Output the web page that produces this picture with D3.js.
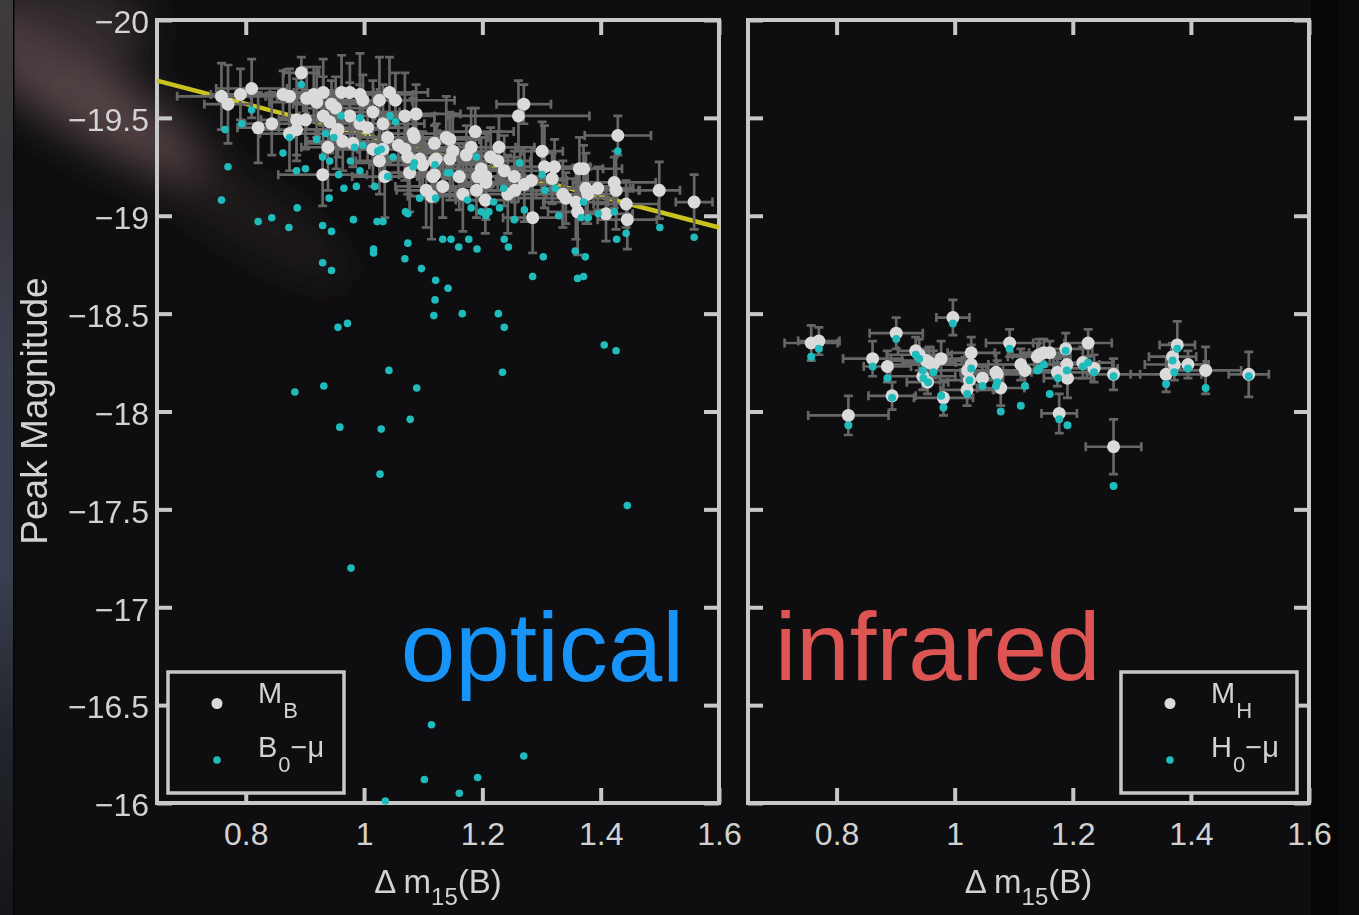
<!DOCTYPE html>
<html>
<head>
<meta charset="utf-8">
<script src="https://cdn.jsdelivr.net/npm/d3@7"></script>
<style>
  html, body { margin: 0; padding: 0; background: #0e0e10; }
  svg { display: block; }
  text { font-family: "Liberation Sans", Arial, Helvetica, sans-serif; }
</style>
</head>
<body>
<svg id="chart" width="1359" height="915"></svg>
<script>
// ---- Optical sample: peak B magnitude (M_B) with uncertainties ----
const optDm15 = [0.759,0.770,0.791,0.810,0.821,0.844,0.863,0.874,0.894,0.886,0.901,0.886,0.874,0.920,0.931,0.945,0.931,0.942,0.956,0.939,
  0.930,0.962,0.976,0.993,0.998,0.976,0.993,0.964,0.981,0.953,1.026,1.043,1.053,1.015,1.032,1.040,1.015,1.032,1.026,1.035,
  1.069,1.088,1.083,1.085,1.069,1.074,1.094,1.077,1.099,1.119,1.139,1.119,1.119,1.133,1.105,1.114,1.270,1.261,1.429,1.145,
  1.188,1.228,1.181,1.173,1.122,1.116,1.145,1.161,1.167,1.190,1.198,1.206,1.226,1.237,1.254,1.243,1.206,1.192,1.271,1.285,
  1.301,1.305,1.322,1.336,1.341,1.358,1.361,1.364,1.371,1.375,1.378,1.395,1.409,1.423,1.426,1.443,1.445,1.499,1.558,0.903,
  0.915,1.205,1.255,0.952,1.006,1.058,1.150,1.214,1.283,1.318];
const optMB = [-19.61,-19.57,-19.62,-19.65,-19.45,-19.47,-19.62,-19.61,-19.73,-19.49,-19.49,-19.44,-19.42,-19.58,-19.63,-19.57,-19.51,-19.48,-19.44,-19.35,
  -19.21,-19.63,-19.63,-19.62,-19.59,-19.51,-19.47,-19.38,-19.37,-19.42,-19.59,-19.63,-19.59,-19.53,-19.47,-19.40,-19.34,-19.34,-19.28,-19.20,
  -19.51,-19.52,-19.42,-19.40,-19.34,-19.30,-19.29,-19.22,-19.26,-19.37,-19.40,-19.28,-19.21,-19.15,-19.13,-19.10,-19.57,-19.51,-19.41,-19.39,
  -19.43,-19.35,-19.35,-19.31,-19.29,-19.20,-19.29,-19.20,-19.11,-19.13,-19.24,-19.20,-19.28,-19.23,-19.20,-19.11,-19.17,-19.20,-19.16,-18.99,
  -19.33,-19.25,-19.25,-19.11,-19.09,-19.07,-19.02,-19.24,-19.24,-19.14,-19.11,-19.14,-19.01,-19.17,-19.13,-19.06,-18.98,-19.13,-19.07,-19.60,
  -19.62,-19.08,-19.13,-19.55,-19.45,-19.36,-19.33,-19.30,-19.18,-19.19];
const optDm15Err = [0.075,0.040,0.050,0.060,0.035,0.045,0.055,0.040,0.030,0.060,0.045,0.070,0.050,0.080,0.050,0.065,0.040,0.055,0.070,0.045,
  0.075,0.060,0.040,0.090,0.050,0.070,0.045,0.060,0.080,0.035,0.055,0.065,0.100,0.045,0.070,0.050,0.060,0.085,0.040,0.055,
  0.050,0.075,0.045,0.060,0.080,0.040,0.065,0.050,0.090,0.055,0.070,0.045,0.060,0.080,0.050,0.040,0.046,0.120,0.056,0.050,
  0.065,0.060,0.075,0.045,0.055,0.070,0.050,0.085,0.040,0.060,0.070,0.045,0.055,0.080,0.050,0.065,0.040,0.075,0.055,0.050,
  0.035,0.070,0.060,0.045,0.080,0.055,0.050,0.040,0.065,0.075,0.050,0.060,0.045,0.070,0.040,0.055,0.050,0.035,0.031,0.050,
  0.060,0.050,0.060,0.055,0.065,0.045,0.070,0.050,0.060,0.045];
const optMBErr = [0.17,0.20,0.13,0.15,0.18,0.16,0.12,0.14,0.08,0.21,0.15,0.13,0.19,0.18,0.17,0.12,0.20,0.16,0.14,0.22,
  0.16,0.19,0.15,0.21,0.13,0.17,0.20,0.15,0.12,0.18,0.22,0.18,0.14,0.16,0.20,0.13,0.19,0.15,0.17,0.21,
  0.22,0.15,0.18,0.13,0.16,0.19,0.14,0.20,0.17,0.15,0.21,0.18,0.13,0.16,0.19,0.22,0.10,0.18,0.10,0.14,
  0.12,0.16,0.20,0.15,0.18,0.13,0.21,0.17,0.19,0.14,0.16,0.22,0.15,0.18,0.13,0.20,0.16,0.12,0.19,0.18,
  0.15,0.21,0.14,0.17,0.13,0.19,0.22,0.16,0.12,0.18,0.15,0.11,0.14,0.13,0.20,0.12,0.15,0.145,0.14,0.16,
  0.14,0.17,0.15,0.16,0.18,0.14,0.19,0.15,0.17,0.13];

// ---- Optical sample: observed B minus distance modulus (B0 - mu) ----
const optB0Dm15 = [0.894,0.810,0.793,0.765,0.770,0.759,0.874,0.863,0.886,0.901,0.920,0.930,0.942,0.935,0.949,0.961,0.957,0.966,0.987,0.941,
  0.977,0.984,0.998,0.993,0.993,1.018,1.023,1.029,1.049,1.040,1.044,1.053,1.085,1.083,1.094,1.120,1.121,1.141,1.070,1.074,
  0.821,0.844,0.873,0.887,0.930,0.945,0.982,1.022,1.032,1.074,1.016,1.016,1.133,1.069,0.930,0.945,1.097,1.121,1.142,1.120,
  1.118,0.956,0.972,1.042,0.883,0.932,1.089,1.078,0.959,1.029,1.027,1.445,0.978,1.114,1.270,1.102,1.192,1.161,1.036,1.429,
  1.263,1.190,1.145,1.236,1.219,1.229,1.175,1.181,1.198,1.206,1.211,1.254,1.271,1.301,1.306,1.323,1.329,1.371,1.367,1.379,
  1.396,1.423,1.500,1.558,1.443,1.427,1.147,1.160,1.177,1.191,1.237,1.244,1.303,1.357,1.374,1.285,1.361,1.371,1.227,1.237,
  1.234,1.406,1.426,1.166];
const optB0mu = [-19.67,-19.54,-19.47,-19.44,-19.25,-19.08,-19.40,-19.32,-19.23,-19.24,-19.39,-19.30,-19.28,-19.42,-19.40,-19.51,-19.21,-19.14,-19.15,-19.09,
  -19.28,-19.35,-19.36,-19.50,-19.23,-19.15,-19.33,-19.34,-19.30,-19.20,-19.51,-19.48,-19.27,-19.25,-19.09,-19.26,-19.09,-19.22,-19.02,-19.01,
  -18.97,-18.99,-18.94,-19.04,-18.95,-18.92,-18.98,-18.97,-18.97,-18.86,-18.83,-18.81,-18.88,-18.78,-18.76,-18.72,-18.73,-18.67,-18.63,-18.57,
  -18.49,-18.43,-18.45,-18.21,-18.10,-18.13,-18.12,-17.96,-17.92,-17.91,-17.68,-17.52,-17.20,-16.40,-16.24,-16.12,-16.13,-16.05,-16.01,-19.33,
  -19.27,-19.30,-19.22,-19.14,-19.07,-19.04,-19.08,-19.04,-19.02,-19.00,-19.02,-18.98,-19.03,-19.21,-19.13,-19.14,-19.00,-19.07,-18.99,-18.99,
  -19.01,-19.02,-18.94,-18.89,-18.91,-18.88,-18.88,-18.84,-18.88,-18.83,-18.88,-18.84,-18.79,-18.82,-18.79,-18.69,-18.68,-18.69,-18.50,-18.43,
  -18.20,-18.34,-18.31,-18.50];

// Linear width-luminosity relation fitted to M_B (end points in data units)
const fitDm15 = [0.65, 1.60];
const fitMB = [-19.69, -18.94];

// ---- Infrared sample: peak H magnitude (M_H) with uncertainties ----
const irDm15 = [0.757,0.770,0.901,0.997,0.861,0.886,0.894,0.820,0.934,0.940,0.952,0.957,0.964,0.977,0.946,0.954,0.981,1.028,1.028,1.022,
  1.025,1.021,1.047,1.070,1.072,1.078,1.093,1.112,1.119,1.140,1.143,1.151,1.161,1.188,1.190,1.174,1.191,1.226,1.217,1.236,
  1.269,1.177,1.269,1.377,1.369,1.372,1.395,1.358,1.425,1.498];
const irMH = [-18.35,-18.36,-18.40,-18.48,-18.27,-18.23,-18.08,-17.98,-18.31,-18.29,-18.26,-18.25,-18.24,-18.27,-18.18,-18.15,-18.07,-18.30,-18.24,-18.21,
  -18.16,-18.11,-18.17,-18.20,-18.19,-18.12,-18.35,-18.24,-18.21,-18.28,-18.29,-18.30,-18.30,-18.32,-18.24,-18.20,-18.17,-18.35,-18.25,-18.22,
  -18.19,-17.99,-17.82,-18.34,-18.28,-18.24,-18.24,-18.19,-18.21,-18.19];
const irDm15Err = [0.045,0.035,0.045,0.028,0.050,0.040,0.040,0.068,0.030,0.055,0.060,0.045,0.070,0.040,0.055,0.035,0.050,0.040,0.080,0.060,
  0.050,0.045,0.035,0.060,0.045,0.040,0.040,0.055,0.065,0.050,0.045,0.040,0.035,0.045,0.055,0.060,0.040,0.040,0.050,0.040,
  0.045,0.030,0.047,0.030,0.040,0.050,0.035,0.060,0.060,0.034];
const irMHErr = [0.09,0.07,0.08,0.09,0.09,0.08,0.07,0.10,0.07,0.08,0.06,0.08,0.07,0.09,0.07,0.06,0.09,0.08,0.10,0.07,
  0.09,0.08,0.06,0.10,0.07,0.09,0.07,0.08,0.09,0.07,0.08,0.07,0.06,0.08,0.09,0.07,0.10,0.07,0.08,0.07,
  0.08,0.10,0.14,0.12,0.07,0.08,0.07,0.09,0.12,0.115];

// ---- Infrared sample: observed H minus distance modulus (H0 - mu) ----
const irH0Dm15 = [0.757,0.770,0.901,0.997,0.861,0.886,0.894,0.820,0.934,0.940,0.946,0.964,0.947,0.955,0.977,0.981,1.028,1.025,1.021,1.047,
  1.070,1.072,1.078,1.093,1.119,1.112,1.140,1.143,1.151,1.161,1.188,1.190,1.175,1.236,1.217,1.226,1.269,1.177,1.191,1.269,
  1.377,1.369,1.372,1.395,1.358,1.425,1.498];
const irH0mu = [-18.28,-18.32,-18.37,-18.45,-18.23,-18.17,-18.07,-17.93,-18.29,-18.27,-18.21,-18.20,-18.17,-18.15,-18.08,-18.02,-18.22,-18.16,-18.09,-18.13,
  -18.13,-18.15,-18.00,-18.32,-18.13,-18.03,-18.21,-18.22,-18.24,-18.09,-18.31,-18.21,-18.17,-18.20,-18.23,-18.25,-18.18,-17.96,-17.93,-17.62,
  -18.32,-18.26,-18.20,-18.22,-18.14,-18.12,-18.18];

// ---- Axis ticks ----
const magTicks = [-20, -19.5, -19, -18.5, -18, -17.5, -17, -16.5, -16];
const magTickLabels = ["\u221220", "\u221219.5", "\u221219", "\u221218.5", "\u221218", "\u221217.5", "\u221217", "\u221216.5", "\u221216"];
const dm15Ticks = [0.8, 1.0, 1.2, 1.4, 1.6];
const dm15TickLabels = ["0.8", "1", "1.2", "1.4", "1.6"];

// ---- Styling ----
const C = {
  frame: "#c8c8c8",
  text: "#d2d2d2",
  err: "#666666",
  white: "#dadada",
  cyan: "#20bcbc",
  fit: "#c9c21f",
  optical: "#1893f8",
  infrared: "#dc5552"
};

const svg = d3.select("#chart");
const W = 1359, H = 915;

// ---- Background: dark sky with a faint blurred galaxy at the upper left ----
const defs = svg.append("defs");
const blurBig = defs.append("filter").attr("id", "blurBig").attr("filterUnits", "userSpaceOnUse")
  .attr("x", -300).attr("y", -300).attr("width", 1000).attr("height", 900);
blurBig.append("feGaussianBlur").attr("stdDeviation", 22);
const stripGrad = defs.append("linearGradient").attr("id", "stripGrad").attr("x1", 0).attr("y1", 0).attr("x2", 0).attr("y2", 1);
[[0, "#3d3b3a"], [0.2, "#37343a"], [0.4, "#3c4150"], [0.62, "#394050"], [0.8, "#22252c"], [1, "#15161a"]]
  .forEach(([o, c]) => stripGrad.append("stop").attr("offset", o).attr("stop-color", c));

svg.append("rect").attr("width", W).attr("height", H).attr("fill", "#0e0e10");
svg.append("rect").attr("x", 1338).attr("width", W - 1338).attr("height", H).attr("fill", "#0b0b0c");
svg.append("rect").attr("x", 1311).attr("width", 27).attr("height", H).attr("fill", "#060606");
const haze = svg.append("g").attr("filter", "url(#blurBig)");
haze.append("ellipse").attr("cx", 80).attr("cy", 95).attr("rx", 150).attr("ry", 36)
  .attr("transform", "rotate(32 80 95)").attr("fill", "#6e5558").attr("opacity", 0.75);
haze.append("ellipse").attr("cx", 50).attr("cy", 30).attr("rx", 100).attr("ry", 50)
  .attr("fill", "#4a3c40").attr("opacity", 0.6);
haze.append("ellipse").attr("cx", 240).attr("cy", 210).attr("rx", 130).attr("ry", 30)
  .attr("transform", "rotate(32 240 210)").attr("fill", "#4a3b3b").attr("opacity", 0.3);
svg.append("rect").attr("x", 0).attr("width", 13).attr("height", H).attr("fill", "url(#stripGrad)");
svg.append("rect").attr("x", 13).attr("width", 1.5).attr("height", H).attr("fill", "#050505");

// ---- Scales ----
const y = d3.scaleLinear().domain([-20, -16]).range([20, 803]);
const panels = [
  { x: d3.scaleLinear().domain([0.65, 1.6]).range([157, 719]), labels: true },
  { x: d3.scaleLinear().domain([0.65, 1.6]).range([748, 1309]), labels: false }
];

function drawFrame(p) {
  const g = svg.append("g");
  const [x0, x1] = p.x.range();
  const [y0, y1] = y.range();
  const tickLen = 15;
  const sw = 4;
  const magFmt = (d) => magTickLabels[magTicks.indexOf(d)];
  const dmFmt = (d) => dm15TickLabels[dm15Ticks.indexOf(d)];

  // inward ticks on all four sides via d3 axes
  const axes = [
    { ax: d3.axisLeft(y).tickValues(magTicks).tickSize(-tickLen).tickFormat(p.labels ? magFmt : () => ""), t: `translate(${x0},0)` },
    { ax: d3.axisRight(y).tickValues(magTicks).tickSize(-tickLen).tickFormat(() => ""), t: `translate(${x1},0)` },
    { ax: d3.axisBottom(p.x).tickValues(dm15Ticks).tickSize(-tickLen).tickFormat(dmFmt), t: `translate(0,${y1})` },
    { ax: d3.axisTop(p.x).tickValues(dm15Ticks).tickSize(-tickLen).tickFormat(() => ""), t: `translate(0,${y0})` }
  ];
  axes.forEach((a, i) => {
    const ag = g.append("g").attr("transform", a.t).call(a.ax);
    ag.select(".domain").remove();
    ag.selectAll(".tick line").attr("stroke", C.frame).attr("stroke-width", sw);
    ag.selectAll(".tick text").attr("fill", C.text).attr("font-size", 32)
      .attr("font-family", "Liberation Sans, Arial, sans-serif");
    if (i === 0) ag.selectAll(".tick text").attr("x", -8).attr("dy", "0.40em");
    if (i === 2) ag.selectAll(".tick text").attr("y", 12).attr("dy", "0.93em");
  });
  g.append("rect").attr("x", x0).attr("y", y0).attr("width", x1 - x0).attr("height", y1 - y0)
    .attr("fill", "none").attr("stroke", C.frame).attr("stroke-width", sw);

  // axis title: Δ m15(B)
  const cx = (x0 + x1) / 2;
  const t = svg.append("text").attr("x", cx).attr("y", 893).attr("text-anchor", "middle")
    .attr("fill", C.text).attr("font-size", 33);
  t.append("tspan").text("\u0394 m");
  t.append("tspan").attr("font-size", 24).attr("dy", 12).text("15");
  t.append("tspan").attr("dy", -12).text("(B)");
}

function drawErrors(g, xs, ys, xe, ye, x) {
  const cap = 4.5;
  const data = xs.map((d, i) => ({ x: d, y: ys[i], xe: xe[i], ye: ye[i] }));
  const eg = g.append("g").attr("stroke", C.err).attr("stroke-width", 2.7).attr("fill", "none");
  eg.selectAll("path").data(data).join("path").attr("d", (d) => {
    const px = x(d.x), py = y(d.y);
    const xl = x(d.x - d.xe), xr = x(d.x + d.xe);
    const yt = y(d.y - d.ye), yb = y(d.y + d.ye);
    return `M${xl},${py}H${xr}M${xl},${py - cap}V${py + cap}M${xr},${py - cap}V${py + cap}` +
      `M${px},${yt}V${yb}M${px - cap},${yt}H${px + cap}M${px - cap},${yb}H${px + cap}`;
  });
}

function drawPoints(g, xs, ys, x, r, color) {
  g.append("g").selectAll("circle").data(xs.map((d, i) => [d, ys[i]])).join("circle")
    .attr("cx", (d) => x(d[0])).attr("cy", (d) => y(d[1])).attr("r", r).attr("fill", color);
}

function drawLegend(x0, sub1, main2, sub2) {
  const g = svg.append("g");
  g.append("rect").attr("x", x0).attr("y", 672).attr("width", 176).attr("height", 121)
    .attr("fill", "#0e0e10").attr("stroke", C.frame).attr("stroke-width", 3.5);
  g.append("circle").attr("cx", x0 + 49).attr("cy", 703.5).attr("r", 5.5).attr("fill", C.white);
  g.append("circle").attr("cx", x0 + 49).attr("cy", 760).attr("r", 3.8).attr("fill", C.cyan);
  const t1 = g.append("text").attr("x", x0 + 90).attr("y", 703).attr("fill", C.text).attr("font-size", 29);
  t1.append("tspan").text("M");
  t1.append("tspan").attr("font-size", 22).attr("dy", 15).attr("dx", 1).text(sub1);
  const t2 = g.append("text").attr("x", x0 + 90).attr("y", 757).attr("fill", C.text).attr("font-size", 29);
  t2.append("tspan").text(main2);
  t2.append("tspan").attr("font-size", 22).attr("dy", 15).attr("dx", 1).text(sub2);
  t2.append("tspan").attr("dy", -15).text("\u2212\u03bc");
}

// ---- Optical panel ----
drawFrame(panels[0]);
const gOpt = svg.append("g");
gOpt.append("line")
  .attr("x1", panels[0].x(fitDm15[0])).attr("y1", y(fitMB[0]))
  .attr("x2", panels[0].x(fitDm15[1])).attr("y2", y(fitMB[1]))
  .attr("stroke", C.fit).attr("stroke-width", 4.5);
drawErrors(gOpt, optDm15, optMB, optDm15Err, optMBErr, panels[0].x);
drawPoints(gOpt, optDm15, optMB, panels[0].x, 6.5, C.white);
drawPoints(gOpt, optB0Dm15, optB0mu, panels[0].x, 3.8, C.cyan);

// ---- Infrared panel ----
drawFrame(panels[1]);
const gIr = svg.append("g");
drawErrors(gIr, irDm15, irMH, irDm15Err, irMHErr, panels[1].x);
drawPoints(gIr, irDm15, irMH, panels[1].x, 6.5, C.white);
drawPoints(gIr, irH0Dm15, irH0mu, panels[1].x, 4.0, C.cyan);

// ---- Legends ----
drawLegend(168, "B", "B", "0");
drawLegend(1121, "H", "H", "0");

// ---- Panel captions ----
svg.append("text").attr("x", 684).attr("y", 681).attr("text-anchor", "end")
  .attr("fill", C.optical).attr("font-size", 98).text("optical");
svg.append("text").attr("x", 775).attr("y", 680)
  .attr("fill", C.infrared).attr("font-size", 96).text("infrared");

// ---- Y axis title ----
svg.append("text").attr("transform", "translate(47,411) rotate(-90)")
  .attr("text-anchor", "middle").attr("fill", C.text).attr("font-size", 37).text("Peak Magnitude");
</script>
</body>
</html>
